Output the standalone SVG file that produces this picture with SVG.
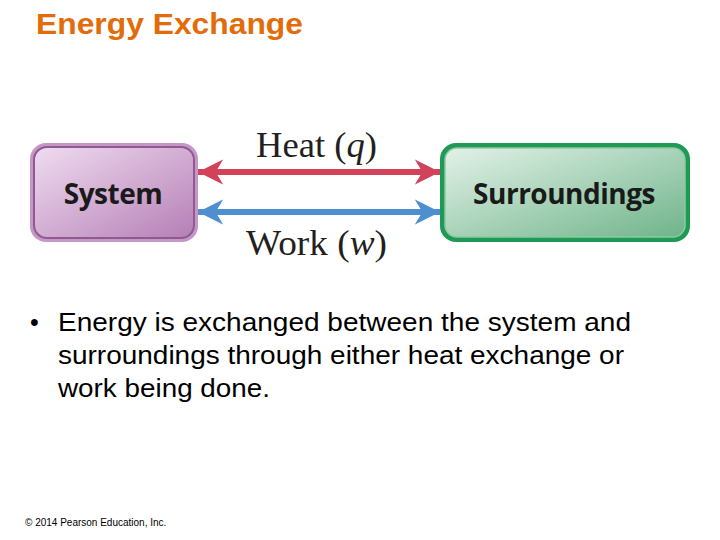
<svg xmlns="http://www.w3.org/2000/svg" width="720" height="540" viewBox="0 0 720 540">
<style>
.title{font-family:"Liberation Sans",Arial,sans-serif;font-weight:bold;font-size:29px;fill:#E36C0A}
.box{font-family:"Open Sans","DejaVu Sans",sans-serif;font-weight:bold;font-size:28px;fill:#1a1a1a;letter-spacing:-0.5px}
.lbl{font-family:"Liberation Serif","Times New Roman",serif;font-size:35px;fill:#231f20}
.body{font-family:"Liberation Sans",Arial,sans-serif;font-size:25px;fill:#000}
.copy{font-family:"Liberation Sans",Arial,sans-serif;font-size:10px;fill:#000}
</style>
<defs>
<linearGradient id="gSys" x1="0" y1="0" x2="1" y2="1">
<stop offset="0" stop-color="#efdcf0"/>
<stop offset="1" stop-color="#b57fb5"/>
</linearGradient>
<linearGradient id="gSur" x1="0" y1="0" x2="1" y2="1">
<stop offset="0" stop-color="#e3f1e8"/>
<stop offset="1" stop-color="#6fb48a"/>
</linearGradient>
<marker id="hR" viewBox="0 0 10 10" refX="10" refY="5" markerWidth="4.2" markerHeight="4.2" orient="auto-start-reverse" markerUnits="strokeWidth">
<path d="M0,0 L10,5 L0,10 L3,5 Z" fill="#d2435b"/>
</marker>
<marker id="hB" viewBox="0 0 10 10" refX="10" refY="5" markerWidth="4.2" markerHeight="4.2" orient="auto-start-reverse" markerUnits="strokeWidth">
<path d="M0,0 L10,5 L0,10 L3,5 Z" fill="#4f8fcf"/>
</marker>
</defs>
<text class="title" x="36" y="34" textLength="267" lengthAdjust="spacingAndGlyphs">Energy Exchange</text>
<g id="connectors">
<line x1="198" y1="172" x2="440" y2="172" stroke="#d2435b" stroke-width="6" marker-start="url(#hR)" marker-end="url(#hR)"/>
<line x1="198" y1="212" x2="440" y2="212" stroke="#4f8fcf" stroke-width="6" marker-start="url(#hB)" marker-end="url(#hB)"/>
<text class="lbl" x="256" y="157" textLength="121" lengthAdjust="spacingAndGlyphs">Heat (<tspan font-style="italic">q</tspan>)</text>
<text class="lbl" x="246" y="255" textLength="141" lengthAdjust="spacingAndGlyphs">Work (<tspan font-style="italic">w</tspan>)</text>
</g>
<g id="system">
<rect x="30" y="143" width="168" height="99" rx="16" fill="#c596c6"/>
<rect x="34" y="147" width="160" height="91" rx="13" fill="url(#gSys)" stroke="#8e5a8f" stroke-width="2"/>
<text class="box" x="113" y="204" text-anchor="middle">System</text>
</g>
<g id="surroundings">
<rect x="440" y="143" width="250" height="99" rx="16" fill="#1f9a55"/>
<rect x="445" y="148" width="240" height="89" rx="12" fill="url(#gSur)" stroke="#8cc9a2" stroke-width="1.5"/>
<text class="box" x="564" y="204" text-anchor="middle">Surroundings</text>
</g>
<g id="bullet">
<text class="body" x="30" y="331">•</text>
<text class="body" x="58" y="331" textLength="573" lengthAdjust="spacingAndGlyphs">Energy is exchanged between the system and</text>
<text class="body" x="58" y="364" textLength="566" lengthAdjust="spacingAndGlyphs">surroundings through either heat exchange or</text>
<text class="body" x="58" y="397" textLength="212" lengthAdjust="spacingAndGlyphs">work being done.</text>
</g>
<text class="copy" x="25" y="526">© 2014 Pearson Education, Inc.</text>
</svg>
